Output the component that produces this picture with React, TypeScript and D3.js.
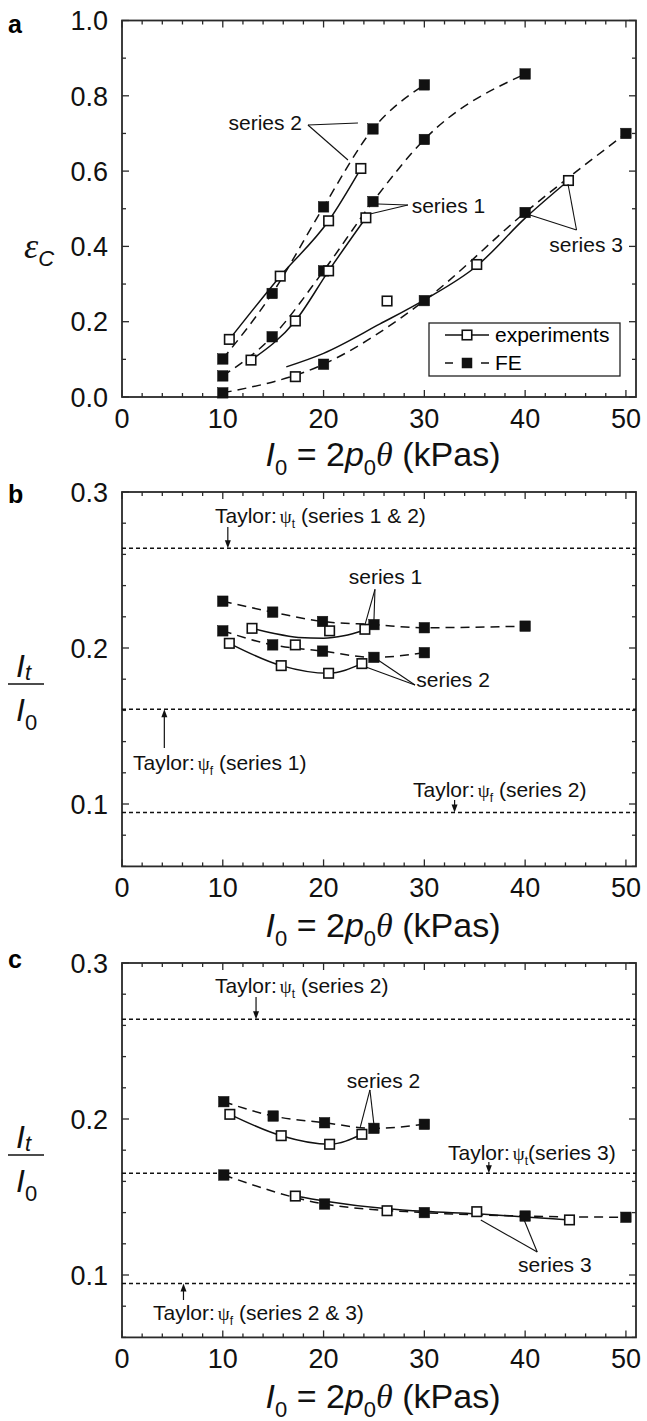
import React from 'react';
import * as d3 from 'd3';

const SANS = 'Liberation Sans, Arial, Helvetica, sans-serif';
const SERIF = 'Liberation Serif, Times New Roman, serif';

// ---------- axis ticks ----------
const xMajorTicks = [0, 10, 20, 30, 40, 50];
const xMinorTicks = [2, 4, 6, 8, 12, 14, 16, 18, 22, 24, 26, 28, 32, 34, 36, 38, 42, 44, 46, 48];
const aYMajorTicks = [0, 0.2, 0.4, 0.6, 0.8, 1.0];
const aYMinorTicks = [0.1, 0.3, 0.5, 0.7, 0.9];
const bcYMajorTicks = [0.1, 0.2, 0.3];
const bcYMinorTicks = [0.06, 0.08, 0.12, 0.14, 0.16, 0.18, 0.22, 0.24, 0.26, 0.28];

// ---------- panel a: eps_C vs I0 ----------
const aExpS1 = [[12.8, 0.098], [17.2, 0.202], [20.5, 0.335], [24.2, 0.476]];
const aExpS2 = [[10.65, 0.153], [15.7, 0.321], [20.5, 0.468], [23.7, 0.607]];
const aExpS3 = [[17.2, 0.054], [26.3, 0.255], [35.2, 0.352], [44.3, 0.575]];
const aExpS3Fit = [[16.3, 0.08], [20, 0.116], [25.6, 0.194], [30, 0.258], [35.2, 0.348], [40, 0.475], [44.3, 0.575]];
const aFeS1 = [[10, 0.056], [14.9, 0.160], [20, 0.335], [24.9, 0.519], [30, 0.684], [40, 0.858]];
const aFeS2 = [[10, 0.101], [14.9, 0.275], [20, 0.505], [24.9, 0.712], [30, 0.829]];
const aFeS3 = [[10, 0.011], [20, 0.087], [30, 0.256], [40, 0.49], [50, 0.70]];

// ---------- panel b: It/I0, series 1 & 2 ----------
const bExpS1 = [[12.9, 0.2126], [17.2, 0.202], [20.6, 0.211], [24.1, 0.212]];
const bExpS1Fit = [[12.9, 0.2126], [15, 0.2094], [17.5, 0.2068], [20, 0.2063], [22, 0.2078], [24.1, 0.2115]];
const bExpS2 = [[10.65, 0.203], [15.8, 0.1887], [20.5, 0.1838], [23.8, 0.190]];
const bFeS1 = [[10, 0.230], [14.95, 0.223], [19.9, 0.217], [25, 0.215], [30, 0.213], [40, 0.214]];
const bFeS2 = [[10, 0.211], [14.95, 0.202], [19.9, 0.198], [25, 0.194], [30, 0.197]];
const bTaylor = [0.2639, 0.1607, 0.0945];

// ---------- panel c: It/I0, series 2 & 3 ----------
const cExpS2 = [[10.7, 0.203], [15.8, 0.1893], [20.6, 0.1838], [23.8, 0.1902]];
const cFeS2 = [[10.1, 0.2111], [15, 0.2019], [20.1, 0.1976], [25, 0.194], [30, 0.1966]];
const cExpS3 = [[17.2, 0.1506], [26.3, 0.1412], [35.2, 0.1406], [44.4, 0.1353]];
const cExpS3Fit = [[17.2, 0.1506], [20, 0.1475], [26.3, 0.1425], [30, 0.1408], [35.2, 0.1392], [40, 0.1372], [44.4, 0.1353]];
const cFeS3 = [[10.1, 0.1641], [20.1, 0.1455], [30, 0.140], [40, 0.1378], [50, 0.137]];
const cTaylor = [0.2639, 0.1652, 0.0945];

// ---------- scales ----------
const xs = d3.scaleLinear().domain([0, 51]).range([122, 636]);
const yA = d3.scaleLinear().domain([0, 1]).range([397, 20.5]);
const yB = d3.scaleLinear().domain([0.06, 0.3]).range([866.4, 492]);
const yC = d3.scaleLinear().domain([0.06, 0.3]).range([1337.4, 963]);

type P = number[];

function Frame({ y, major, minor, fmt }: any) {
  const [yb, yt] = y.range();
  const [xl, xr] = xs.range();
  const els: any[] = [];
  const stroke = '#2a2a2a';
  xMajorTicks.concat(xMinorTicks).forEach((t, i) => {
    const len = xMajorTicks.includes(t) ? 7 : 4;
    const X = xs(t);
    els.push(<line key={'xb' + i} x1={X} x2={X} y1={yb} y2={yb - len} stroke={stroke} strokeWidth={1.3} />);
    els.push(<line key={'xt' + i} x1={X} x2={X} y1={yt} y2={yt + len} stroke={stroke} strokeWidth={1.3} />);
  });
  major.concat(minor).forEach((t: number, i: number) => {
    const len = major.includes(t) ? 7 : 4;
    const Y = y(t);
    els.push(<line key={'yl' + i} x1={xl} x2={xl + len} y1={Y} y2={Y} stroke={stroke} strokeWidth={1.3} />);
    els.push(<line key={'yr' + i} x1={xr} x2={xr - len} y1={Y} y2={Y} stroke={stroke} strokeWidth={1.3} />);
  });
  return (
    <g>
      <rect x={xl} y={yt} width={xr - xl} height={yb - yt} fill="none" stroke={stroke} strokeWidth={1.8} />
      {els}
      {xMajorTicks.map((t) => (
        <text key={'xl' + t} x={xs(t)} y={yb + 31} textAnchor="middle" fontSize={27} fontFamily={SANS} fill="#111">{t}</text>
      ))}
      {major.map((t: number) => (
        <text key={'yl' + t} x={108} y={y(t)} dy="0.36em" textAnchor="end" fontSize={27} fontFamily={SANS} fill="#111">{fmt(t)}</text>
      ))}
    </g>
  );
}

function XTitle({ y }: any) {
  return (
    <text x={383} y={y} textAnchor="middle" fontSize={34} fontFamily={SANS} fill="#111">
      <tspan fontStyle="italic">I</tspan>
      <tspan fontSize={22} dy={9}>0</tspan>
      <tspan dy={-9}> = 2</tspan>
      <tspan fontStyle="italic">p</tspan>
      <tspan fontSize={22} dy={9}>0</tspan>
      <tspan dy={-9} fontStyle="italic" fontFamily={SERIF}>θ</tspan>
      <tspan> (kPas)</tspan>
    </text>
  );
}

function Curve({ pts, y, dashed }: any) {
  const gen = d3.line<P>().x((d) => xs(d[0])).y((d) => y(d[1])).curve(d3.curveMonotoneX);
  return <path d={gen(pts) || ''} fill="none" stroke="#111" strokeWidth={1.5} strokeDasharray={dashed ? '9,6' : undefined} />;
}

function Marks({ pts, y, open }: any) {
  const s = open ? 9.5 : 10.5;
  return (
    <g>
      {pts.map((d: P, i: number) => (
        <rect key={i} x={xs(d[0]) - s / 2} y={y(d[1]) - s / 2} width={s} height={s}
          fill={open ? '#fff' : '#111'} stroke="#111" strokeWidth={open ? 1.6 : 0.5} />
      ))}
    </g>
  );
}

function Leader({ y, apex, ends }: any) {
  return (
    <g>
      {ends.map((e: P, i: number) => (
        <line key={i} x1={xs(apex[0])} y1={y(apex[1])} x2={xs(e[0])} y2={y(e[1])} stroke="#111" strokeWidth={1.1} />
      ))}
    </g>
  );
}

function Label({ x, y, text, anchor }: any) {
  return <text x={x} y={y} fontSize={21} fontFamily={SANS} textAnchor={anchor || 'start'} fill="#111">{text}</text>;
}

function TaylorText({ x, y, sub, rest }: any) {
  return (
    <text x={x} y={y} fontSize={21} fontFamily={SANS} fill="#111">
      Taylor:<tspan dx={3} fontFamily={SERIF} fontSize={19}>ψ</tspan>
      <tspan fontSize={12} dy={5}>{sub}</tspan>
      <tspan dy={-5}>{rest}</tspan>
    </text>
  );
}

function Arrow({ x, y1, y2 }: any) {
  const dir = y2 > y1 ? 1 : -1;
  return (
    <g>
      <line x1={x} x2={x} y1={y1} y2={y2 - dir * 6} stroke="#111" strokeWidth={1.2} />
      <path d={`M${x - 3},${y2 - dir * 8} L${x + 3},${y2 - dir * 8} L${x},${y2} Z`} fill="#111" />
    </g>
  );
}

function Hline({ y, v }: any) {
  const [xl, xr] = xs.range();
  return <line x1={xl} x2={xr} y1={y(v)} y2={y(v)} stroke="#111" strokeWidth={1.5} strokeDasharray="4,3" />;
}

function FracLabel({ top }: any) {
  return (
    <g fontFamily={SANS} fill="#111">
      <text x={16} y={top} fontSize={32} fontStyle="italic">I<tspan fontSize={22} dy={3}>t</tspan></text>
      <line x1={8} x2={44} y1={top + 7} y2={top + 7} stroke="#111" strokeWidth={1.5} />
      <text x={16} y={top + 44} fontSize={32} fontStyle="italic">I<tspan fontSize={22} dy={9} fontStyle="normal">0</tspan></text>
    </g>
  );
}

export default function App() {
  const fmtA = (v: number) => v.toFixed(1);
  const fmtB = (v: number) => v.toFixed(1);
  return (
    <svg width={647} height={1421} style={{ position: 'absolute', left: 0, top: 0, background: '#fff' }}>
      <rect x={0} y={0} width={647} height={1421} fill="#fff" />
      {/* ---------------- panel a ---------------- */}
      <text x={8} y={33} fontSize={25} fontWeight="bold" fontFamily={SANS}>a</text>
      <Frame y={yA} major={aYMajorTicks} minor={aYMinorTicks} fmt={fmtA} />
      <XTitle y={466} />
      <text x={24} y={258} fontSize={36} fontStyle="italic" fontFamily={SERIF} fill="#111">ε<tspan fontSize={22} dy={8} fontFamily={SANS}>C</tspan></text>
      <Curve pts={aExpS1} y={yA} />
      <Curve pts={aExpS2} y={yA} />
      <Curve pts={aExpS3Fit} y={yA} />
      <Curve pts={aFeS1} y={yA} dashed />
      <Curve pts={aFeS2} y={yA} dashed />
      <Curve pts={aFeS3} y={yA} dashed />
      <Marks pts={aFeS1} y={yA} />
      <Marks pts={aFeS2} y={yA} />
      <Marks pts={aFeS3} y={yA} />
      <Marks pts={aExpS1} y={yA} open />
      <Marks pts={aExpS2} y={yA} open />
      <Marks pts={aExpS3} y={yA} open />
      <Label x={xs(17.86)} y={yA(0.709)} text="series 2" anchor="end" />
      <Leader y={yA} apex={[18.45, 0.7225]} ends={[[23.41, 0.7278], [22.42, 0.6295]]} />
      <Label x={xs(28.74)} y={yA(0.4887)} text="series 1" />
      <Leader y={yA} apex={[28.37, 0.51]} ends={[[25.4, 0.5126], [24.6, 0.486]]} />
      <Label x={xs(49.7)} y={yA(0.385)} text="series 3" anchor="end" />
      <Leader y={yA} apex={[45.1, 0.4436]} ends={[[40.48, 0.4834], [44.25, 0.5657]]} />
      {/* legend */}
      <g>
        <rect x={429} y={323} width={191} height={53} fill="#fff" stroke="#222" strokeWidth={1.3} />
        <line x1={445} x2={489} y1={335} y2={335} stroke="#111" strokeWidth={1.5} />
        <rect x={462.25} y={330.25} width={9.5} height={9.5} fill="#fff" stroke="#111" strokeWidth={1.6} />
        <text x={495} y={342} fontSize={21} fontFamily={SANS}>experiments</text>
        <line x1={445} x2={489} y1={363} y2={363} stroke="#111" strokeWidth={1.5} strokeDasharray="8,14,0,14,8" />
        <rect x={461.75} y={357.75} width={10.5} height={10.5} fill="#111" />
        <text x={495} y={370} fontSize={21} fontFamily={SANS}>FE</text>
      </g>

      {/* ---------------- panel b ---------------- */}
      <text x={8} y={503} fontSize={25} fontWeight="bold" fontFamily={SANS}>b</text>
      <Frame y={yB} major={bcYMajorTicks} minor={bcYMinorTicks} fmt={fmtB} />
      <XTitle y={937} />
      <FracLabel top={677} />
      {bTaylor.map((v, i) => <Hline key={i} y={yB} v={v} />)}
      <TaylorText x={215} y={523} sub="t" rest=" (series 1 & 2)" />
      <Arrow x={xs(10.5)} y1={527} y2={yB(bTaylor[0])} />
      <TaylorText x={133} y={770} sub="f" rest=" (series 1)" />
      <Arrow x={xs(4.2)} y1={748} y2={yB(bTaylor[1])} />
      <TaylorText x={413} y={797} sub="f" rest=" (series 2)" />
      <Arrow x={xs(33)} y1={800} y2={yB(bTaylor[2])} />
      <Curve pts={bExpS1Fit} y={yB} />
      <Curve pts={bExpS2} y={yB} />
      <Curve pts={bFeS1} y={yB} dashed />
      <Curve pts={bFeS2} y={yB} dashed />
      <Marks pts={bFeS1} y={yB} />
      <Marks pts={bFeS2} y={yB} />
      <Marks pts={bExpS1} y={yB} open />
      <Marks pts={bExpS2} y={yB} open />
      <Label x={xs(22.5)} y={yB(0.241)} text="series 1" />
      <Leader y={yB} apex={[25.1, 0.2376]} ends={[[24.1, 0.2147], [25.0, 0.2179]]} />
      <Label x={xs(29.2)} y={yB(0.175)} text="series 2" />
      <Leader y={yB} apex={[29.07, 0.1763]} ends={[[25.4, 0.1923], [24.2, 0.1878]]} />

      {/* ---------------- panel c ---------------- */}
      <text x={8} y={968} fontSize={25} fontWeight="bold" fontFamily={SANS}>c</text>
      <Frame y={yC} major={bcYMajorTicks} minor={bcYMinorTicks} fmt={fmtB} />
      <XTitle y={1408} />
      <FracLabel top={1148} />
      {cTaylor.map((v, i) => <Hline key={i} y={yC} v={v} />)}
      <TaylorText x={215} y={993} sub="t" rest=" (series 2)" />
      <Arrow x={xs(13.3)} y1={997} y2={yC(cTaylor[0])} />
      <TaylorText x={448} y={1160} sub="t" rest="(series 3)" />
      <Arrow x={xs(36.4)} y1={1162} y2={yC(cTaylor[1])} />
      <TaylorText x={153} y={1320} sub="f" rest=" (series 2 & 3)" />
      <Arrow x={xs(6.1)} y1={1300} y2={yC(cTaylor[2])} />
      <Curve pts={cExpS2} y={yC} />
      <Curve pts={cExpS3Fit} y={yC} />
      <Curve pts={cFeS2} y={yC} dashed />
      <Curve pts={cFeS3} y={yC} dashed />
      <Marks pts={cFeS2} y={yC} />
      <Marks pts={cFeS3} y={yC} />
      <Marks pts={cExpS2} y={yC} open />
      <Marks pts={cExpS3} y={yC} open />
      <Label x={xs(22.3)} y={yC(0.2199)} text="series 2" />
      <Leader y={yC} apex={[24.6, 0.2186]} ends={[[23.65, 0.195], [25.0, 0.1962]]} />
      <Label x={xs(39.3)} y={yC(0.102)} text="series 3" />
      <Leader y={yC} apex={[41.2, 0.1147]} ends={[[35.6, 0.1353], [39.9, 0.1353]]} />
    </svg>
  );
}
